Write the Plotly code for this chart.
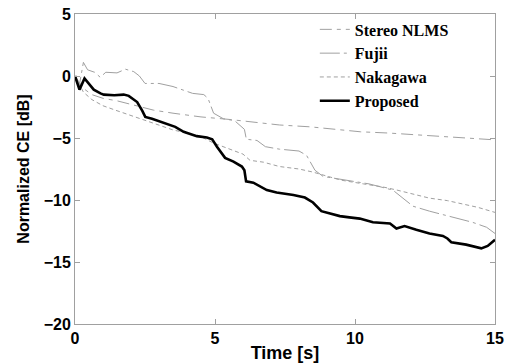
import plotly.graph_objects as go

# ---- data ----
t_proposed = [0, 0.16, 0.34, 0.5, 0.67, 0.91, 1.03, 1.4, 1.74, 1.92, 2.1, 2.22, 2.4, 2.51, 2.75, 3.05, 3.3,
              3.58, 3.88, 4.1, 4.35, 4.71, 4.9, 5.07, 5.2, 5.36, 5.66, 5.96, 6.05, 6.11, 6.37, 6.61, 6.85,
              7.2, 7.5, 7.8, 8.21, 8.5, 8.8, 9.1, 9.46, 9.8, 10.17, 10.64, 11.25, 11.48, 11.77, 12.19,
              12.66, 13.14, 13.3, 13.44, 13.97, 14.51, 14.74, 15]
y_proposed = [0, -1.1, -0.2, -0.6, -1.1, -1.4, -1.5, -1.55, -1.5, -1.6, -1.9, -2.1, -2.8, -3.3, -3.45, -3.7,
              -3.9, -4.1, -4.5, -4.65, -4.85, -4.96, -5.1, -5.7, -6.1, -6.6, -6.9, -7.3, -7.6, -8.5, -8.6,
              -8.9, -9.2, -9.4, -9.5, -9.6, -9.8, -10.2, -10.9, -11.1, -11.3, -11.4, -11.5, -11.8, -11.9,
              -12.3, -12.1, -12.4, -12.7, -12.9, -13.1, -13.4, -13.6, -13.9, -13.7, -13.2]

t_stereo = [0, 0.3, 0.6, 1.0, 1.5, 2.0, 2.5, 2.8, 3.5, 4.5, 5.5, 6.5, 7.3, 8.4, 9.3, 10.2, 11.2, 12.2,
            13.3, 14.2, 15]
y_stereo = [0, -1.0, -1.5, -1.8, -2.0, -2.3, -2.6, -2.75, -3.0, -3.3, -3.5, -3.75, -3.95, -4.1, -4.3,
            -4.5, -4.6, -4.75, -4.9, -5.05, -5.15]

t_fujii = [0, 0.15, 0.3, 0.45, 0.7, 0.9, 1.1, 1.5, 1.8, 2.1, 2.3, 2.5, 3.0, 3.5, 4.2, 4.6, 4.75, 4.95,
           5.3, 5.7, 6.05, 6.12, 6.5, 6.8, 7.3, 8.0, 8.27, 8.57, 8.86, 9.7, 10.5, 11.35, 11.8, 12.07,
           12.66, 13.5, 14.2, 14.7, 15]
y_fujii = [0, -0.8, 1.1, 0.5, 0.3, -0.1, 0.3, 0.25, 0.55, 0.35, 0.0, -0.6, -0.6, -0.85, -1.4, -1.5, -1.8,
           -3.0, -3.45, -3.6, -4.3, -5.1, -5.2, -5.7, -5.9, -6.05, -6.4, -7.6, -8.1, -8.4, -8.7, -9.2,
           -10.0, -10.5, -10.9, -11.4, -11.8, -12.2, -12.7]

t_nakagawa = [0, 0.3, 0.6, 1.0, 1.5, 2.0, 2.5, 3.0, 3.5, 4.0, 4.5, 4.94, 5.5, 6.0, 6.25, 6.73, 7.3, 8.0,
              8.5, 9.0, 9.5, 10.3, 11.0, 11.5, 12.0, 12.66, 13.3, 13.85, 14.4, 15]
y_nakagawa = [0, -1.3, -1.9, -2.4, -2.8, -3.2, -3.6, -4.0, -4.35, -4.6, -4.9, -5.4, -5.9, -6.3, -6.8,
              -6.95, -7.3, -7.5, -7.75, -8.1, -8.4, -8.7, -8.95, -9.2, -9.5, -9.85, -10.05, -10.3,
              -10.6, -11.0]

series_names = ["Stereo NLMS", "Fujii", "Nakagawa", "Proposed"]
x_ticks = [0, 5, 10, 15]
y_ticks = [5, 0, -5, -10, -15, -20]

GRAY = "#a0a0a0"

fig = go.Figure()
fig.add_trace(go.Scatter(x=t_stereo, y=y_stereo, mode="lines", name=series_names[0],
                         line=dict(color=GRAY, width=1, dash="12px,5px,4px,5px")))
fig.add_trace(go.Scatter(x=t_fujii, y=y_fujii, mode="lines", name=series_names[1],
                         line=dict(color=GRAY, width=1, dash="20px,4px,3px,4px")))
fig.add_trace(go.Scatter(x=t_nakagawa, y=y_nakagawa, mode="lines", name=series_names[2],
                         line=dict(color=GRAY, width=1, dash="4px,3px")))
fig.add_trace(go.Scatter(x=t_proposed, y=y_proposed, mode="lines", name=series_names[3],
                         line=dict(color="black", width=2.6)))

tickfont = dict(family="Liberation Sans, Arial, sans-serif", size=16, color="black", weight="bold")
xtitlefont = dict(family="Liberation Sans, Arial, sans-serif", size=18, color="black", weight="bold")
ytitlefont = dict(family="Liberation Sans, Arial, sans-serif", size=16, color="black", weight="bold")

fig.update_layout(
    width=511, height=363,
    margin=dict(l=75, r=16, t=14, b=39, autoexpand=False),
    paper_bgcolor="white", plot_bgcolor="white",
    showlegend=True,
    legend=dict(x=0.571, y=1.005, xanchor="left", yanchor="top",
                bgcolor="rgba(255,255,255,0)", borderwidth=0,
                font=dict(family="Liberation Serif, Times New Roman, serif", size=16,
                          color="black", weight="bold"),
                itemwidth=30, tracegroupgap=0),
    xaxis=dict(range=[0, 15], tickvals=x_ticks, ticks="inside", ticklen=5, tickcolor=GRAY,
               showline=True, linecolor=GRAY, linewidth=1, mirror="ticks", showgrid=False,
               zeroline=False, tickfont=tickfont, automargin=False,
               title=dict(text="Time [s]", font=xtitlefont, standoff=0)),
    yaxis=dict(range=[-20, 5], tickvals=y_ticks, ticks="inside", ticklen=5, tickcolor=GRAY,
               showline=True, linecolor=GRAY, linewidth=1, mirror="ticks", showgrid=False,
               zeroline=False, tickfont=tickfont, automargin=False,
               title=dict(text="Normalized CE [dB]", font=ytitlefont, standoff=10)),
)

# remove the default page margin so the figure sits at the window's top-left corner
fig.write_html("out.html", config={"displayModeBar": False},
               post_script="document.body.style.margin='0';document.body.style.overflow='hidden';")
